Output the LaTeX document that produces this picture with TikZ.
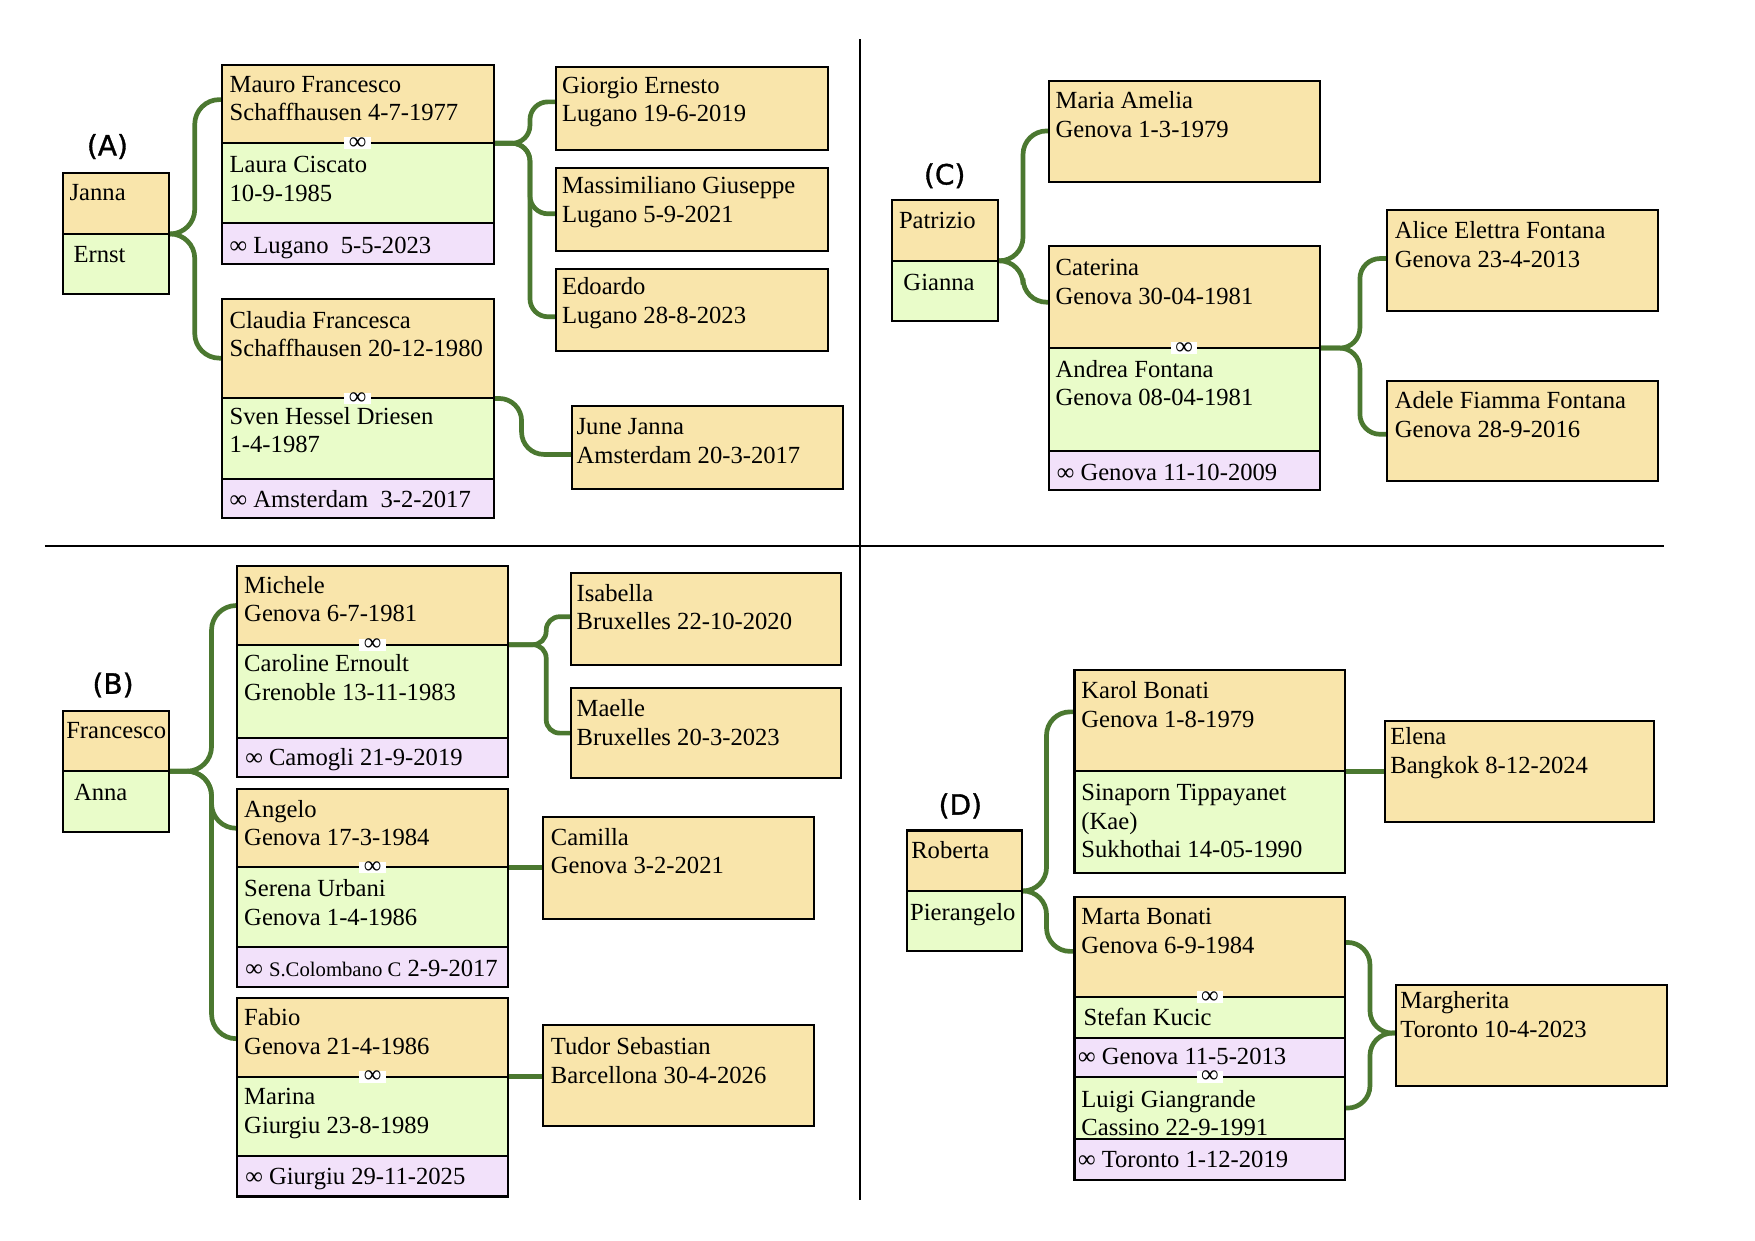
\documentclass[tikz,border=0pt]{standalone}
\usepackage{fontspec}
\setmainfont{Liberation Serif}
\newfontfamily\labelfont[FakeBold=1.2]{DejaVu Sans}
\usetikzlibrary{backgrounds,calc}

\definecolor{orng}{HTML}{F9E5AB}
\definecolor{grn}{HTML}{E9FCC9}
\definecolor{purp}{HTML}{F2E1FA}
\definecolor{edgegreen}{HTML}{4B7830}
\newcommand\myst{\rule{0pt}{17pt}}

\tikzset{
  bx/.style={draw=black, line width=1.8pt, inner sep=0pt, outer sep=0pt, anchor=north west},
  obox/.style={bx, fill=orng},
  gbox/.style={bx, fill=grn},
  pbox/.style={bx, fill=purp},
  txt/.style={anchor=north west, inner sep=0pt, align=left, font=\fontsize{22}{25.5}\selectfont},
  lbl/.style={font=\labelfont\fontsize{25}{25}\selectfont},
  inf/.style={fill=white, inner xsep=4pt, inner ysep=0pt, font=\fontsize{22}{22}\selectfont},
  conn/.style={draw=edgegreen, line width=4.2pt},
  sepline/.style={draw=black, line width=1.8pt},
}

\begin{document}
\begin{tikzpicture}[x=1pt, y=-1pt]
\useasboundingbox (0,0) rectangle (1568,1108);

% separators
\draw[sepline] (768,35) -- (768,1072);
\draw[sepline] (40,488) -- (1487,488);

% ================= (A) =================
\node[lbl] (labA) at (96,131) {(A)};
\node[obox, minimum width=95pt, minimum height=54pt] (janna) at (56,155) {};
\node[gbox, minimum width=95pt, minimum height=54pt] (ernst) at (56,209) {};
\node[txt] (tjanna) at (62,162) {\myst Janna};
\node[txt] (ternst) at (65.5,217) {\myst Ernst};

\node[obox, minimum width=243pt, minimum height=70pt] (mauro) at (198,58) {};
\node[gbox, minimum width=243pt, minimum height=71pt] (laura) at (198,128) {};
\node[pbox, minimum width=243pt, minimum height=37pt] (marA) at (198,199) {};
\node[txt] (tmauro) at (205,65) {\myst Mauro Francesco\\Schaffhausen 4-7-1977};
\node[txt] (tlaura) at (205,137) {\myst Laura Ciscato\\10-9-1985};
\node[txt] (tmarA) at (205,209) {\myst ∞ Lugano~~5-5-2023};
\node[inf] (iA1) at (mauro.south) {∞};

\node[obox, minimum width=243pt, minimum height=89pt] (claudia) at (198,267) {};
\node[gbox, minimum width=243pt, minimum height=72pt] (sven) at (198,356) {};
\node[pbox, minimum width=243pt, minimum height=35pt] (marA2) at (198,428) {};
\node[txt] (tclaudia) at (205,276) {\myst Claudia Francesca\\Schaffhausen 20-12-1980};
\node[txt] (tsven) at (205,362) {\myst Sven Hessel Driesen\\1-4-1987};
\node[txt] (tmarA2) at (205,436) {\myst ∞ Amsterdam~~3-2-2017};
\node[inf] (iA2) at (claudia.south) {∞};

\node[obox, minimum width=243pt, minimum height=74pt] (giorgio) at (497,60) {};
\node[obox, minimum width=243pt, minimum height=74pt] (massi) at (497,150) {};
\node[obox, minimum width=243pt, minimum height=74pt] (edoardo) at (497,240) {};
\node[obox, minimum width=242pt, minimum height=74pt] (june) at (511,363) {};
\node[txt] (tgiorgio) at (502,66) {\myst Giorgio Ernesto\\Lugano 19-6-2019};
\node[txt] (tmassi) at (502,156) {\myst Massimiliano Giuseppe\\Lugano 5-9-2021};
\node[txt] (tedoardo) at (502,246) {\myst Edoardo\\Lugano 28-8-2023};
\node[txt] (tjune) at (515,371) {\myst June Janna\\Amsterdam 20-3-2017};

% ================= (C) =================
\node[lbl] (labC) at (844,157) {(C)};
\node[obox, minimum width=95pt, minimum height=54pt] (patrizio) at (797,179) {};
\node[gbox, minimum width=95pt, minimum height=54pt] (gianna) at (797,233) {};
\node[txt] (tpatrizio) at (803,187) {\myst Patrizio};
\node[txt] (tgianna) at (807,242) {\myst Gianna};

\node[obox, minimum width=242pt, minimum height=91pt] (maria) at (937,72) {};
\node[txt] (tmaria) at (943,80) {\myst Maria Amelia\\Genova 1-3-1979};

\node[obox, minimum width=242pt, minimum height=91pt] (caterina) at (937,220) {};
\node[gbox, minimum width=242pt, minimum height=92pt] (andrea) at (937,311) {};
\node[pbox, minimum width=242pt, minimum height=35pt] (marC) at (937,403) {};
\node[txt] (tcaterina) at (943,229) {\myst Caterina\\Genova 30-04-1981};
\node[txt] (tandrea) at (943,320) {\myst Andrea Fontana\\Genova 08-04-1981};
\node[txt] (tmarC) at (944,412) {\myst ∞ Genova 11-10-2009};
\node[inf] (iC) at (caterina.south) {∞};

\node[obox, minimum width=242pt, minimum height=90pt] (alice) at (1239,188) {};
\node[obox, minimum width=242pt, minimum height=90pt] (adele) at (1239,340) {};
\node[txt] (talice) at (1246,196) {\myst Alice Elettra Fontana\\Genova 23-4-2013};
\node[txt] (tadele) at (1246,348) {\myst Adele Fiamma Fontana\\Genova 28-9-2016};

% ================= (B) =================
\node[lbl] (labB) at (101,612) {(B)};
\node[obox, minimum width=95pt, minimum height=54pt] (francesco) at (56,635) {};
\node[gbox, minimum width=95pt, minimum height=54pt] (anna) at (56,689) {};
\node[txt] (tfrancesco) at (59,643) {\myst Francesco};
\node[txt] (tanna) at (66,698) {\myst Anna};

\node[obox, minimum width=242pt, minimum height=70pt] (michele) at (212,506) {};
\node[gbox, minimum width=242pt, minimum height=83pt] (caroline) at (212,576) {};
\node[pbox, minimum width=242pt, minimum height=35pt] (marB1) at (212,659) {};
\node[txt] (tmichele) at (218,513) {\myst Michele\\Genova 6-7-1981};
\node[txt] (tcaroline) at (218,583) {\myst Caroline Ernoult\\Grenoble 13-11-1983};
\node[txt] (tmarB1) at (219,667) {\myst ∞ Camogli 21-9-2019};
\node[inf] (iB1) at (michele.south) {∞};

\node[obox, minimum width=242pt, minimum height=70pt] (angelo) at (212,705) {};
\node[gbox, minimum width=242pt, minimum height=71pt] (serena) at (212,775) {};
\node[pbox, minimum width=242pt, minimum height=36pt] (marB2) at (212,846) {};
\node[txt] (tangelo) at (218,713) {\myst Angelo\\Genova 17-3-1984};
\node[txt] (tserena) at (218,784) {\myst Serena Urbani\\Genova 1-4-1986};
\node[txt] (tmarB2) at (219,855) {\myst ∞ {\fontsize{18.5}{20}\selectfont S.Colombano C} 2-9-2017};
\node[inf] (iB2) at (angelo.south) {∞};

\node[obox, minimum width=242pt, minimum height=70pt] (fabio) at (212,892) {};
\node[gbox, minimum width=242pt, minimum height=71pt] (marina) at (212,962) {};
\node[pbox, minimum width=242pt, minimum height=36pt] (marB3) at (212,1033) {};
\node[txt] (tfabio) at (218,899) {\myst Fabio\\Genova 21-4-1986};
\node[txt] (tmarina) at (218,970) {\myst Marina\\Giurgiu 23-8-1989};
\node[txt] (tmarB3) at (219,1041) {\myst ∞ Giurgiu 29-11-2025};
\node[inf] (iB3) at (fabio.south) {∞};

\node[obox, minimum width=241pt, minimum height=82pt] (isabella) at (510,512) {};
\node[obox, minimum width=241pt, minimum height=80pt] (maelle) at (510,615) {};
\node[obox, minimum width=242pt, minimum height=91pt] (camilla) at (485,730) {};
\node[obox, minimum width=242pt, minimum height=90pt] (tudor) at (485,916) {};
\node[txt] (tisabella) at (515,520) {\myst Isabella\\Bruxelles 22-10-2020};
\node[txt] (tmaelle) at (515,623) {\myst Maelle\\Bruxelles 20-3-2023};
\node[txt] (tcamilla) at (492,738) {\myst Camilla\\Genova 3-2-2021};
\node[txt] (ttudor) at (492,925) {\myst Tudor Sebastian\\Barcellona 30-4-2026};

% ================= (D) =================
\node[lbl] (labD) at (858,720) {(D)};
\node[obox, minimum width=103pt, minimum height=54pt] (roberta) at (810,742) {};
\node[gbox, minimum width=103pt, minimum height=54pt] (pierangelo) at (810,796) {};
\node[txt] (troberta) at (814,750) {\myst Roberta};
\node[txt] (tpierangelo) at (813,805) {\myst Pierangelo};

\node[obox, minimum width=242pt, minimum height=90pt] (karol) at (960,599) {};
\node[gbox, minimum width=242pt, minimum height=91pt] (sinaporn) at (960,689) {};
\node[txt] (tkarol) at (966,607) {\myst Karol Bonati\\Genova 1-8-1979};
\node[txt] (tsinaporn) at (966,698) {\myst Sinaporn Tippayanet\\(Kae)\\Sukhothai 14-05-1990};

\node[obox, minimum width=241pt, minimum height=90pt] (elena) at (1237,644) {};
\node[txt] (telena) at (1242,648) {\myst Elena\\Bangkok 8-12-2024};

\node[obox, minimum width=242pt, minimum height=90pt] (marta) at (960,801) {};
\node[gbox, minimum width=242pt, minimum height=36pt] (stefan) at (960,891) {};
\node[pbox, minimum width=242pt, minimum height=35pt] (marD1) at (960,927) {};
\node[gbox, minimum width=242pt, minimum height=56pt] (luigi) at (960,962) {};
\node[pbox, minimum width=242pt, minimum height=36pt] (marD2) at (960,1018) {};
\node[txt] (tmarta) at (966,809) {\myst Marta Bonati\\Genova 6-9-1984};
\node[txt] (tstefan) at (968,899) {\myst Stefan Kucic};
\node[txt] (tmarD1) at (963,934) {\myst ∞ Genova 11-5-2013};
\node[txt] (tluigi) at (966,972) {\myst Luigi Giangrande\\Cassino 22-9-1991};
\node[txt] (tmarD2) at (963,1026) {\myst ∞ Toronto 1-12-2019};
\node[inf] (iD1) at (marta.south) {∞};
\node[inf] (iD2) at (luigi.north) {∞};

\node[obox, minimum width=242pt, minimum height=90pt] (margherita) at (1247,880) {};
\node[txt] (tmargherita) at (1251,884) {\myst Margherita\\Toronto 10-4-2023};

% ================= connectors =================
\begin{pgfonlayer}{background}
% A
\draw[conn, rounded corners=22pt] (janna.south east) -- ++(23,0) |- ($(mauro.north west)+(0,31)$);
\draw[conn, rounded corners=22pt] (janna.south east) -- ++(23,0) |- ($(claudia.north west)+(0,53)$);
\draw[conn, rounded corners=16pt] (mauro.south east) -- ++(32.5,0) |- ($(giorgio.north west)+(0,31)$);
\draw[conn, rounded corners=16pt] (mauro.south east) -- ++(32.5,0) |- ($(massi.north west)+(0,41)$);
\draw[conn, rounded corners=16pt] (mauro.south east) -- ++(32.5,0) |- ($(edoardo.north west)+(0,43)$);
\draw[conn, rounded corners=20pt] (claudia.south east) -- ++(25,0) |- ($(june.north west)+(0,43)$);
% C
\draw[conn, rounded corners=21pt] (patrizio.south east) -- ++(22,0) |- ($(maria.north west)+(0,45)$);
\draw[conn, rounded corners=21pt] (patrizio.south east) -- ++(22,0) |- ($(caterina.north west)+(0,50)$);
\draw[conn, rounded corners=18pt] (caterina.south east) -- ++(36,0) |- ($(alice.north west)+(0,43)$);
\draw[conn, rounded corners=18pt] (caterina.south east) -- ++(36,0) |- ($(adele.north west)+(0,48)$);
% B
\draw[conn, rounded corners=22pt] (francesco.south east) -- ++(38,0) |- ($(michele.north west)+(0,35)$);
\draw[conn, rounded corners=22pt] (francesco.south east) -- ++(38,0) |- ($(angelo.north west)+(0,35)$);
\draw[conn, rounded corners=22pt] (francesco.south east) -- ++(38,0) |- ($(fabio.north west)+(0,36)$);
\draw[conn, rounded corners=12pt] (michele.south east) -- ++(34,0) |- ($(isabella.north west)+(0,39)$);
\draw[conn, rounded corners=12pt] (michele.south east) -- ++(34,0) |- ($(maelle.north west)+(0,40)$);
\draw[conn] (angelo.south east) -- (angelo.south east -| camilla.west);
\draw[conn] (fabio.south east) -- (fabio.south east -| tudor.west);
% D
\draw[conn, rounded corners=21pt] (roberta.south east) -- ++(22,0) |- ($(karol.north west)+(0,37)$);
\draw[conn, rounded corners=21pt] (roberta.south east) -- ++(22,0) |- ($(marta.north west)+(0,49)$);
\draw[conn] (karol.south east) -- (karol.south east -| elena.west);
\draw[conn, rounded corners=20pt] ($(marta.north east)+(0,41)$) -- ++(22,0) |- ($(margherita.north west)+(0,43)$);
\draw[conn, rounded corners=20pt] ($(luigi.north east)+(0,28)$) -- ++(22,0) |- ($(margherita.north west)+(0,43)$);
\end{pgfonlayer}
\end{tikzpicture}
\end{document}
